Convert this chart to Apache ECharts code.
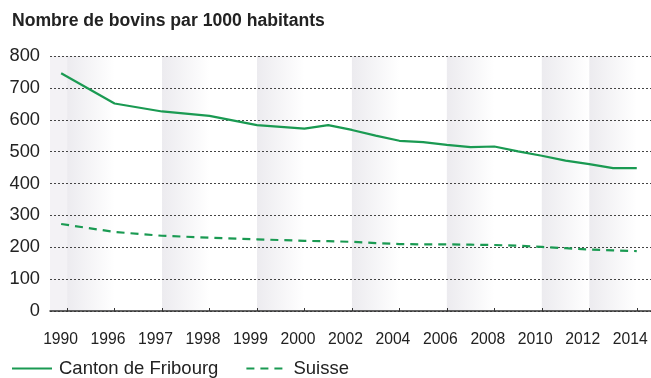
<!DOCTYPE html>
<html>
<head>
<meta charset="utf-8">
<script src="https://cdn.jsdelivr.net/npm/echarts@6/dist/echarts.min.js"></script>
<style>
html,body{margin:0;padding:0;background:#fff;}
#c{width:651px;height:378px;}
</style>
</head>
<body>
<div id="c"></div>
<script>
// Tick labels of the x axis (one label every two slots)
const tickLabels = ['1990','1996','1997','1998','1999','2000','2002','2004','2006','2008','2010','2012','2014'];
// Years of observations and their slot on the x axis (one slot = half a tick step)
const years = [1990,1996,1997,1998,1999,2000,2001,2002,2003,2004,2005,2006,2007,2008,2009,2010,2011,2012,2013,2014];
const xSlot = [-0.25,2,4,6,8,10,11,12,13,14,15,16,17,18,19,20,21,22,23,24];
// Values
const fribourg = [746,651,626,612,583,572,583,568,550,534,530,521,514,516,501,487,472,461,448,448];
const suisse   = [273,248,236,230,225,220,219,217,213,210,209,209,208,207,205,201,197,193,190,188];
// Shaded bands (start slot of each band, width 2 slots)
const bandStarts = [0,4,8,12,16,20,22];

const green = '#1a9a52';
const grad = {type:'linear',x:0,y:0,x2:1,y2:0,colorStops:[{offset:0,color:'#ecebef'},{offset:1,color:'#ffffff'}]};
const bands = [[{xAxis:-0.72, itemStyle:{color:'#f3f2f5'}},{xAxis:0}]].concat(
  bandStarts.map(s => [{xAxis:s, itemStyle:{color:grad}},{xAxis:s+2}]));

const chart = echarts.init(document.getElementById('c'));
chart.setOption({
  animation:false,
  title:{text:'Nombre de bovins par 1000 habitants',left:7,top:7,
    textStyle:{fontFamily:'Liberation Sans, Arial',fontSize:17.6,fontWeight:'bold',color:'#222'}},
  grid:{left:50,right:0,top:56,bottom:67},
  legend:{left:6,bottom:-5,itemWidth:40,itemHeight:12,itemGap:27,
    itemStyle:{opacity:0},
    textStyle:{fontFamily:'Liberation Sans, Arial',fontSize:18.5,color:'#222',padding:[0,0,0,2]},
    data:['Canton de Fribourg','Suisse']},
  xAxis:{type:'value',min:-0.72,max:24.6,z:3,
    axisLine:{show:true,lineStyle:{color:'#333',width:1.5}},
    axisTick:{show:true,inside:true,length:3,customValues:tickLabels.map((t,i)=>i*2),lineStyle:{color:'#333'}},
    axisLabel:{customValues:tickLabels.map((t,i)=>i*2),formatter:v=>tickLabels[Math.round(v/2)],
      margin:21,padding:[0,13,0,0],fontFamily:'Liberation Sans, Arial',fontSize:15.7,color:'#222'},
    splitLine:{show:false}},
  yAxis:{type:'value',min:0,max:800,interval:100,z:3,
    axisLine:{show:false},axisTick:{show:false},
    axisLabel:{margin:10,fontFamily:'Liberation Sans, Arial',fontSize:18.3,color:'#222'},
    splitLine:{show:true,lineStyle:{color:'#444',type:[2,2],width:1}}},
  series:[
    {name:'bands',type:'line',data:[],z:1,silent:true,
      markArea:{silent:true,data:bands}},
    {name:'Canton de Fribourg',type:'line',z:5,symbol:'none',
      lineStyle:{color:green,width:2.2},itemStyle:{color:green},
      data:years.map((y,i)=>[xSlot[i],fribourg[i]])},
    {name:'Suisse',type:'line',z:5,symbol:'none',
      lineStyle:{color:green,width:2.2,type:[8,6]},itemStyle:{color:green},
      data:years.map((y,i)=>[xSlot[i],suisse[i]])}
  ]
});
</script>
</body>
</html>
